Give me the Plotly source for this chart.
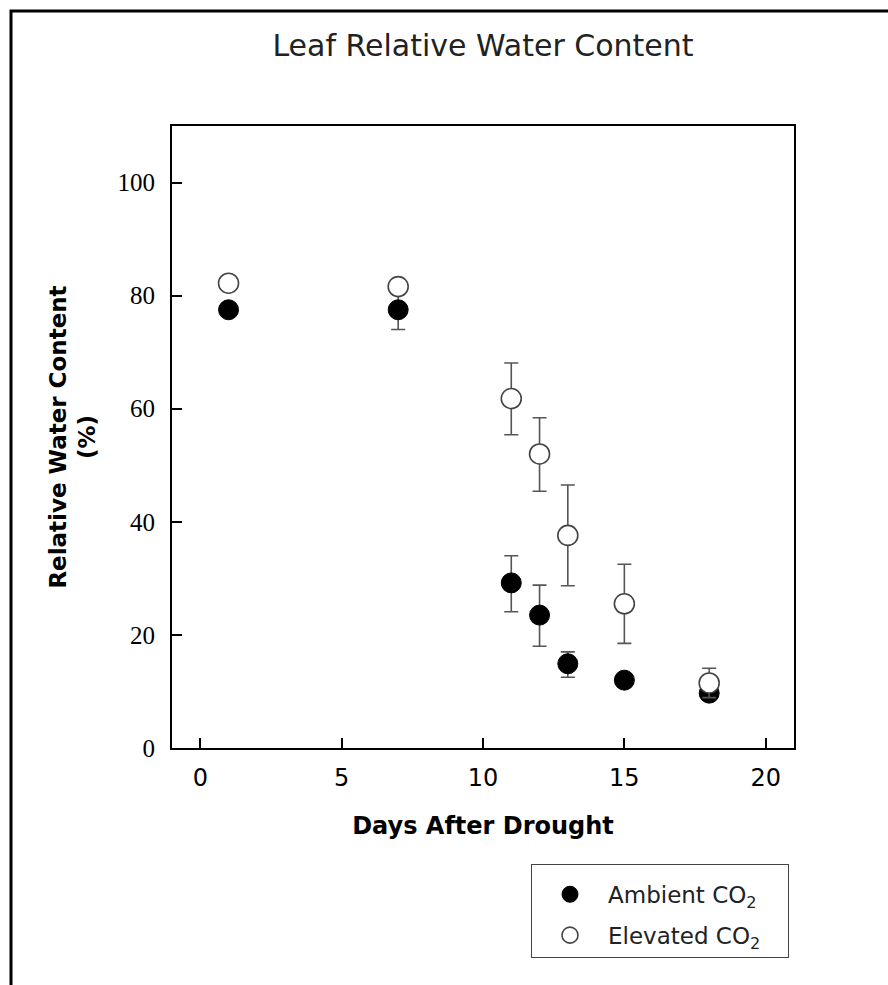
import plotly.graph_objects as go

days = [1, 7, 11, 12, 13, 15, 18]
ambient = [77.5, 77.5, 29.2, 23.5, 14.9, 12.0, 9.7]
ambient_err_plus = [1.0, 3.5, 4.8, 5.3, 2.1, 1.0, 1.0]
ambient_err_minus = [1.0, 3.5, 5.1, 5.5, 2.4, 1.0, 1.0]
elevated = [82.2, 81.6, 61.8, 52.0, 37.6, 25.5, 11.5]
elevated_err_plus = [1.0, 1.0, 6.3, 6.4, 8.9, 7.0, 2.6]
elevated_err_minus = [1.0, 1.0, 6.4, 6.6, 8.9, 7.0, 2.6]

x_ticks = [0, 5, 10, 15, 20]
y_ticks = [0, 20, 40, 60, 80, 100]

W, H = 888, 985
L, R, T, B = 172, 94, 126, 237
pw, ph = W - L - R, H - T - B

fig = go.Figure()
fig.add_trace(go.Scatter(
    x=days, y=ambient, mode="markers", name="Ambient CO<sub>2</sub>&nbsp;&nbsp;&nbsp;", legendgroup="a",
    marker=dict(symbol="circle", size=20, color="black", line=dict(color="black", width=1)),
    error_y=dict(type="data", symmetric=False, array=ambient_err_plus, arrayminus=ambient_err_minus,
                 color="#555555", thickness=1.6, width=7),
))
fig.add_trace(go.Scatter(
    x=days, y=elevated, mode="markers", name="Elevated CO<sub>2</sub>&nbsp;&nbsp;&nbsp;", legendgroup="e",
    marker=dict(symbol="circle", size=20, color="white", line=dict(color="#444444", width=1.6)),
    error_y=dict(type="data", symmetric=False, array=elevated_err_plus, arrayminus=elevated_err_minus,
                 color="#555555", thickness=1.6, width=7),
))

def px_x(p):
    return (p - L) / pw

def px_y(p):
    return (H - B - p) / ph

fig.add_shape(type="rect", xref="paper", yref="paper",
              x0=px_x(11), x1=px_x(905), y0=px_y(1005), y1=px_y(11),
              line=dict(color="black", width=3), fillcolor="rgba(0,0,0,0)", layer="below")

fig.update_layout(
    width=W, height=H,
    margin=dict(l=L, r=R, t=T, b=B, pad=0),
    paper_bgcolor="white", plot_bgcolor="white",
    title=dict(text="Leaf Relative Water Content", xref="container", x=483 / W, xanchor="center",
               y=1 - 45 / H, yanchor="middle",
               font=dict(family="DejaVu Sans", size=30, color="#222222")),
    showlegend=True,
    legend=dict(x=px_x(531), y=px_y(864), xanchor="left", yanchor="top",
                bordercolor="#444444", borderwidth=1, bgcolor="white",
                font=dict(family="DejaVu Sans", size=23, color="#222222"),
                title=dict(text="&nbsp;", font=dict(size=6)),
                itemwidth=66, tracegroupgap=8, traceorder="grouped"),
)
fig.update_xaxes(
    range=[-1, 21], tickvals=x_ticks, ticktext=[str(v) for v in x_ticks],
    ticks="inside", ticklen=10, tickwidth=2, tickcolor="black",
    showline=True, linecolor="black", linewidth=2, mirror=True, showgrid=False, zeroline=False,
    tickfont=dict(family="DejaVu Sans", size=24, color="black"), ticklabelstandoff=7,
    title=dict(text="<b>Days After Drought</b>", standoff=26,
               font=dict(family="DejaVu Sans", size=24, color="black")),
)
fig.update_yaxes(
    range=[0, 110], tickvals=y_ticks, ticktext=[str(v) for v in y_ticks],
    ticks="inside", ticklen=10, tickwidth=2, tickcolor="black",
    showline=True, linecolor="black", linewidth=2, mirror=True, showgrid=False, zeroline=False,
    tickfont=dict(family="Liberation Serif", size=25, color="black"), ticklabelstandoff=10,
    title=dict(text="<b>Relative Water Content<br>(%)</b>", standoff=15,
               font=dict(family="DejaVu Sans", size=23, color="black")),
)

fig.write_html("out.html")
